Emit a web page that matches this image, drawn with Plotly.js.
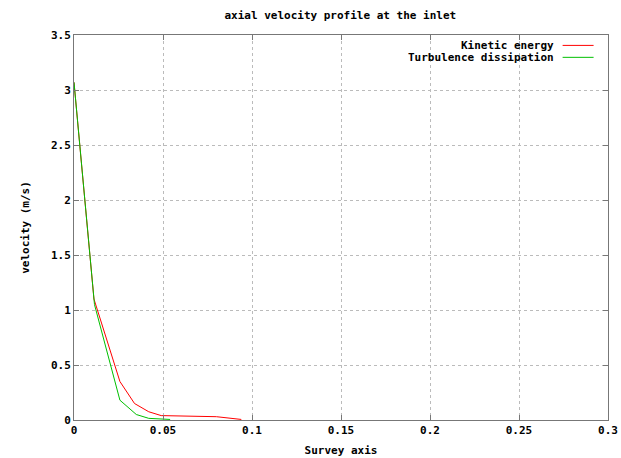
<!DOCTYPE html>
<html><head><meta charset="utf-8">
<script src="https://cdn.plot.ly/plotly-3.0.1.min.js"></script>
<style>html,body{margin:0;padding:0;background:#fff}#chart{width:621px;height:458px}</style>
</head><body><div id="chart"></div>
<script>
const seriesNames = ["Kinetic energy", "Turbulence dissipation"];
const seriesColors = ["#ff0000", "#00c000"];
const kineticX = [0, 0.0112, 0.0258, 0.034, 0.042, 0.049, 0.08, 0.094];
const kineticY = [3.07, 1.1, 0.35, 0.15, 0.075, 0.04, 0.03, 0.005];
const dissipX = [0, 0.0115, 0.0258, 0.035, 0.042, 0.054];
const dissipY = [3.07, 1.05, 0.18, 0.05, 0.015, 0.005];
const xTicks = [0, 0.05, 0.1, 0.15, 0.2, 0.25, 0.3];
const xTickText = ["0", "0.05", "0.1", "0.15", "0.2", "0.25", "0.3"];
const yTicks = [0, 0.5, 1, 1.5, 2, 2.5, 3, 3.5];
const yTickText = ["0", "0.5", "1", "1.5", "2", "2.5", "3", "3.5"];

const F = "DejaVu Sans Mono, monospace";
const traces = [
  {x: kineticX, y: kineticY, name: seriesNames[0], mode: "lines", line: {color: seriesColors[0], width: 1}},
  {x: dissipX, y: dissipY, name: seriesNames[1], mode: "lines", line: {color: seriesColors[1], width: 1}}
];
const axisCommon = {
  showline: true, linecolor: "#777", linewidth: 1, mirror: "ticks",
  ticks: "inside", ticklen: 5, tickcolor: "#777",
  showgrid: true, gridcolor: "#bbb", griddash: "dot", gridwidth: 1,
  zeroline: false, tickfont: {family: F, size: 11, color: "#000", weight: "bold"}
};
const layout = {
  width: 621, height: 458,
  margin: {l: 74, r: 13, t: 35, b: 38},
  paper_bgcolor: "#fff", plot_bgcolor: "#fff",
  showlegend: false,
  title: {text: "axial velocity profile at the inlet", x: 0.548, xanchor: "center", y: 0.975, yanchor: "top",
          font: {family: F, size: 11, color: "#000", weight: "bold"}},
  xaxis: Object.assign({}, axisCommon, {range: [0, 0.3], tickvals: xTicks, ticktext: xTickText,
          title: {text: "Survey axis", standoff: 10, font: {family: F, size: 11, color: "#000", weight: "bold"}}}),
  yaxis: Object.assign({}, axisCommon, {range: [0, 3.5], tickvals: yTicks, ticktext: yTickText,
          title: {text: "velocity (m/s)", standoff: 19, font: {family: F, size: 11, color: "#000", weight: "bold"}}}),
  annotations: seriesNames.map((n, i) => ({
    text: n, xref: "paper", yref: "paper", x: 0.902, y: 0.973 - i * 0.031,
    xanchor: "right", yanchor: "middle", showarrow: false,
    font: {family: F, size: 11, color: "#000", weight: "bold"}
  })),
  shapes: seriesNames.map((n, i) => ({
    type: "line", xref: "paper", yref: "paper", x0: 0.915, x1: 0.973,
    y0: 0.973 - i * 0.031, y1: 0.973 - i * 0.031, line: {color: seriesColors[i], width: 1}
  }))
};
Plotly.newPlot("chart", traces, layout, {displayModeBar: false, staticPlot: true});
</script></body></html>
